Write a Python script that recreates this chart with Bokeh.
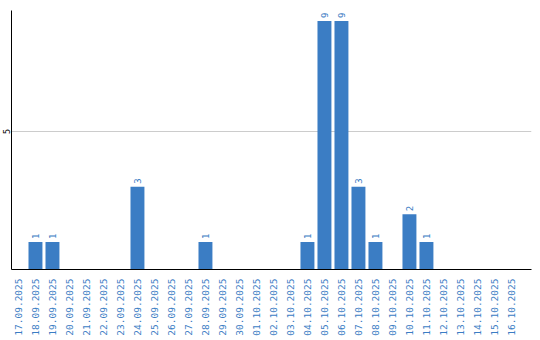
import math
from bokeh.plotting import figure
from bokeh.models import Range1d, FixedTicker, ColumnDataSource
from bokeh.core.properties import value
from bokeh.embed import file_html
from bokeh.resources import INLINE

dates = ["17.09.2025", "18.09.2025", "19.09.2025", "20.09.2025", "21.09.2025",
         "22.09.2025", "23.09.2025", "24.09.2025", "25.09.2025", "26.09.2025",
         "27.09.2025", "28.09.2025", "29.09.2025", "30.09.2025", "01.10.2025",
         "02.10.2025", "03.10.2025", "04.10.2025", "05.10.2025", "06.10.2025",
         "07.10.2025", "08.10.2025", "09.10.2025", "10.10.2025", "11.10.2025",
         "12.10.2025", "13.10.2025", "14.10.2025", "15.10.2025", "16.10.2025"]
counts = [0, 1, 1, 0, 0, 0, 0, 3, 0, 0, 0, 1, 0, 0, 0,
          0, 0, 1, 9, 9, 3, 1, 0, 2, 1, 0, 0, 0, 0, 0]
y_ticks = [5]

BLUE = "#3b7dc4"

xs = list(range(len(dates)))
nz = [i for i, c in enumerate(counts) if c > 0]
bars = ColumnDataSource(dict(x=[xs[i] for i in nz], top=[counts[i] for i in nz],
                             lbl=[str(counts[i]) for i in nz]))

p = figure(width=540, height=340, output_backend="svg", toolbar_location=None,
           x_range=Range1d(-0.41, 30.18), y_range=Range1d(0, 9.38),
           min_border_left=11, min_border_right=9, min_border_top=10,
           min_border_bottom=71)
p.outline_line_color = None

p.vbar(x="x", top="top", width=0.82, source=bars, color=BLUE, line_color=None)
p.text(x="x", y="top", text="lbl", source=bars, angle=math.pi / 2,
       text_align="left", text_baseline="middle", x_offset=0, y_offset=-3,
       text_color=BLUE, text_font=value("DejaVu Sans Mono"), text_font_size="9px")

p.xaxis.ticker = FixedTicker(ticks=xs)
p.xaxis.major_label_overrides = {i: d for i, d in enumerate(dates)}
p.xaxis.major_label_orientation = math.pi / 2
p.xaxis.major_label_text_color = BLUE
p.xaxis.major_label_text_font = "DejaVu Sans Mono"
p.xaxis.major_label_text_font_size = "9.5px"
p.xaxis.major_tick_line_color = None
p.xaxis.minor_tick_line_color = None
p.xaxis.major_tick_out = 0
p.xaxis.minor_tick_out = 0
p.xaxis.major_label_standoff = 9
p.xaxis.axis_line_color = "black"

p.yaxis.ticker = FixedTicker(ticks=y_ticks)
p.yaxis.major_label_orientation = "vertical"
p.yaxis.major_label_text_font = "DejaVu Sans"
p.yaxis.major_label_text_font_size = "8px"
p.yaxis.major_label_text_color = "black"
p.yaxis.major_tick_line_color = None
p.yaxis.minor_tick_line_color = None
p.yaxis.major_tick_out = 0
p.yaxis.minor_tick_out = 0
p.yaxis.major_label_standoff = 1
p.yaxis.axis_line_color = "black"

p.xgrid.grid_line_color = None
p.ygrid.grid_line_color = "#cccccc"

open("out.html", "w").write(file_html(p, INLINE))
